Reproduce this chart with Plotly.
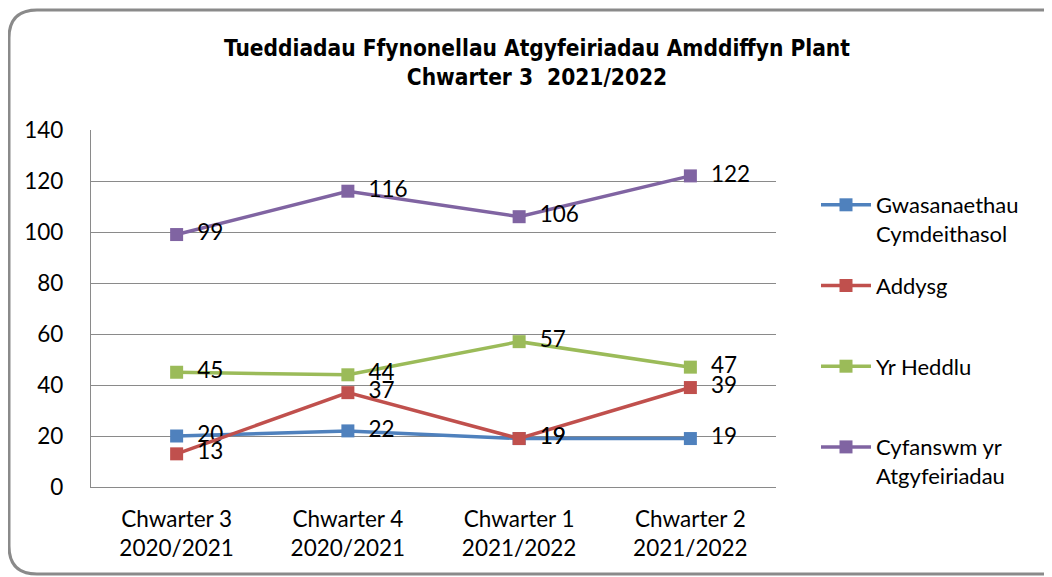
import plotly.graph_objects as go

# categorïau a gwerthoedd
chwarteri = ["Chwarter 3<br>2020/2021", "Chwarter 4<br>2020/2021",
             "Chwarter 1<br>2021/2022", "Chwarter 2<br>2021/2022"]
gwasanaethau = [20, 22, 19, 19]
addysg = [13, 37, 19, 39]
heddlu = [45, 44, 57, 47]
cyfanswm = [99, 116, 106, 122]

enwau = ["Gwasanaethau<br>Cymdeithasol", "Addysg<br>\u00a0", "Yr Heddlu<br>\u00a0",
         "Cyfanswm yr<br>Atgyfeiriadau"]
lliwiau = ["#4F81BD", "#C0504D", "#9BBB59", "#8064A2"]

# mae'r dudalen yn ychwanegu 8px o ymyl, felly mae'r ffigur 8px yn llai
W, H = 1044, 569
ML, MT = 83, 122
PW, PH = 685, 357
MR, MB = W - ML - PW, H - MT - PH

fig = go.Figure()
for i, (vals, enw, lliw) in enumerate(zip([gwasanaethau, addysg, heddlu, cyfanswm], enwau, lliwiau)):
    fig.add_trace(go.Scatter(
        x=list(range(len(chwarteri))), y=vals, name=enw, legendgroup=str(i),
        mode="lines+markers+text",
        line=dict(color=lliw, width=3.5),
        marker=dict(symbol="square", size=13, color=lliw),
        text=["\u00a0\u00a0" + str(v) for v in vals],
        textposition="middle right",
        textfont=dict(family="Lato", size=22.5, color="black"),
    ))


# ffrâm gron o amgylch y siart (picseli -> papur)
def px(x):
    return (x - ML) / PW


def py(y):
    return 1 - (y - MT) / PH


x0, x1, y0, y1, r = 1, 1062, 2, 566, 28
path = (f"M {px(x0)},{py(y0 + r)} Q {px(x0)},{py(y0)} {px(x0 + r)},{py(y0)} "
        f"L {px(x1 - r)},{py(y0)} Q {px(x1)},{py(y0)} {px(x1)},{py(y0 + r)} "
        f"L {px(x1)},{py(y1 - r)} Q {px(x1)},{py(y1)} {px(x1 - r)},{py(y1)} "
        f"L {px(x0 + r)},{py(y1)} Q {px(x0)},{py(y1)} {px(x0)},{py(y1 - r)} Z")
fig.add_shape(type="path", path=path, xref="paper", yref="paper",
              line=dict(color="#8a8a8a", width=3), layer="below")

fig.update_layout(
    width=W, height=H,
    margin=dict(l=ML, r=MR, t=MT, b=MB),
    paper_bgcolor="white", plot_bgcolor="white",
    font=dict(family="Lato", size=22.5, color="black"),
    title=dict(
        text="<b>Tueddiadau Ffynonellau Atgyfeiriadau Amddiffyn Plant<br>Chwarter 3\u00a0\u00a02021/2022</b>",
        x=px(529), xanchor="center", xref="paper", y=1 - 48 / H, yanchor="top",
        font=dict(family="Liberation Sans Narrow, DejaVu Sans Condensed, Liberation Sans",
                  size=22.5, color="black"),
    ),
    showlegend=True,
    legend=dict(x=px(808), xanchor="left", y=py(176), yanchor="top",
                font=dict(family="Lato", size=22), tracegroupgap=20.5,
                valign="top", itemwidth=50, bgcolor="rgba(0,0,0,0)"),
    xaxis=dict(range=[-0.5, 3.5], tickvals=list(range(len(chwarteri))), ticktext=chwarteri,
               showgrid=False, showline=True, linecolor="#8a8a8a", linewidth=1.3,
               ticks="outside", ticklen=12, tickcolor="rgba(0,0,0,0)", zeroline=False),
    yaxis=dict(range=[0, 140], dtick=20, showgrid=True, gridcolor="#8a8a8a", gridwidth=1.3,
               showline=True, linecolor="#8a8a8a", linewidth=1.3, zeroline=False,
               ticks="outside", ticklen=22, tickcolor="rgba(0,0,0,0)"),
)

fig.write_html("out.html")
